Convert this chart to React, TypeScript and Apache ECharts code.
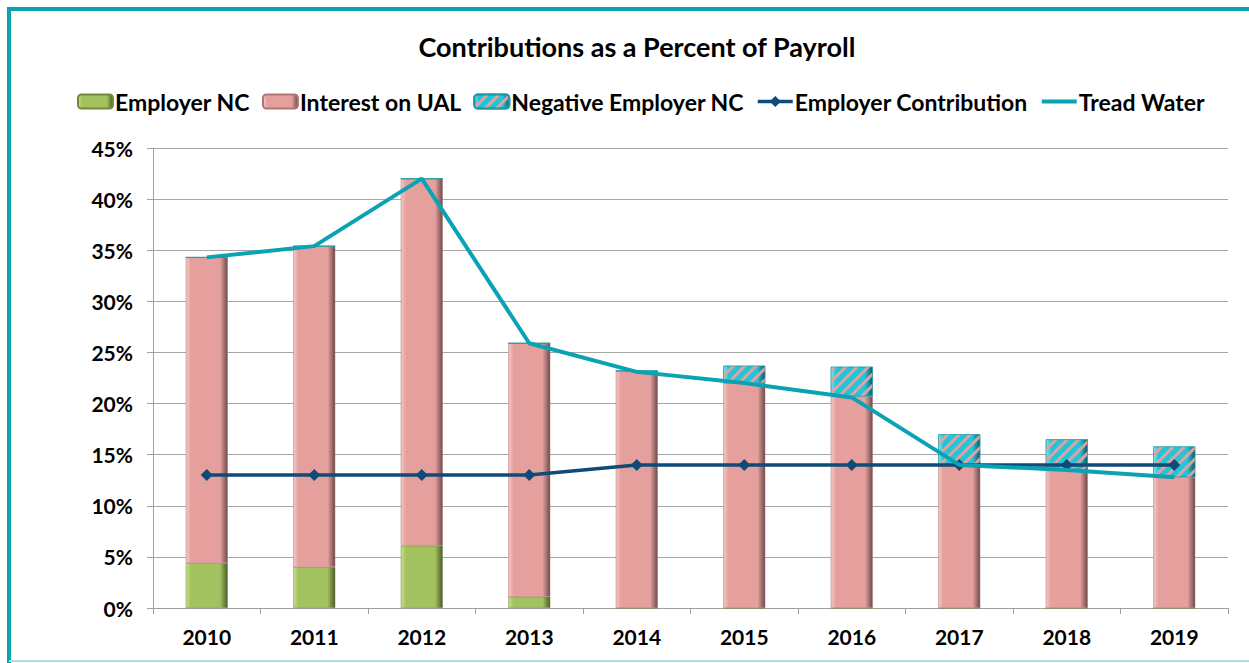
import React, { useEffect, useRef } from "react";
import * as echarts from "echarts";

const years = ["2010", "2011", "2012", "2013", "2014", "2015", "2016", "2017", "2018", "2019"];
const employerNC = [4.4, 4.0, 6.1, 1.1, 0, 0, 0, 0, 0, 0];
const interestUAL = [29.9, 31.4, 35.9, 24.8, 23.2, 22.0, 20.7, 13.9, 13.5, 12.8];
const negativeEmployerNC = [0, 0, 0, 0, 0, 1.7, 2.9, 3.1, 3.0, 3.0];
const employerContribution = [13, 13, 13, 13, 14, 14, 14, 14, 14, 14];
const treadWater = [34.3, 35.4, 42.0, 25.9, 23.1, 22.0, 20.6, 14.0, 13.5, 12.8];
const legendNames = ["Employer NC", "Interest on UAL", "Negative Employer NC", "Employer Contribution", "Tread Water"];

const FONT = "Lato, 'Noto Sans', sans-serif";

function bevel(light: string, base: string, dark: string) {
  return new echarts.graphic.LinearGradient(0, 0, 1, 0, [
    { offset: 0, color: light },
    { offset: 0.12, color: base },
    { offset: 0.82, color: base },
    { offset: 1, color: dark },
  ]);
}

export default function App() {
  const ref = useRef<HTMLDivElement>(null);
  useEffect(() => {
    if (!ref.current) return;
    const chart = echarts.init(ref.current, null, { renderer: "svg" });
    chart.setOption({
      animation: false,
      backgroundColor: "#ffffff",
      title: {
        text: "Contributions as a Percent of Payroll",
        left: 632,
        textAlign: "center",
        top: 28,
        textStyle: { fontFamily: FONT, fontWeight: "bold", fontSize: 27, color: "#000" },
      },
      legend: {
        top: 85,
        left: 72,
        itemWidth: 35,
        itemHeight: 14,
        itemGap: 12,
        textStyle: { fontFamily: FONT, fontWeight: "bold", fontSize: 23, color: "#000", padding: [0, 0, 0, -3] },
        data: legendNames.map((n) => {
          if (n === "Tread Water") return { name: n, itemStyle: { opacity: 0 }, lineStyle: { width: 4 } };
          if (n === "Employer Contribution") return { name: n, lineStyle: { width: 3.5 } };
          return { name: n };
        }),
      },
      grid: { left: 153, right: 21, top: 148, bottom: 55, containLabel: false },
      xAxis: {
        type: "category",
        data: years,
        axisLine: { lineStyle: { color: "#a0a0a0", width: 1 } },
        axisTick: { show: true, length: 6, lineStyle: { color: "#a0a0a0" } },
        axisLabel: { fontFamily: FONT, fontWeight: "bold", fontSize: 21, color: "#000", margin: 18 },
      },
      yAxis: {
        type: "value",
        min: 0,
        max: 45,
        interval: 5,
        axisLine: { show: true, lineStyle: { color: "#a0a0a0" } },
        axisTick: { show: true, length: 6, lineStyle: { color: "#a0a0a0" } },
        splitLine: { lineStyle: { color: "#a6a6a6", width: 1 } },
        axisLabel: {
          formatter: "{value}%",
          fontFamily: FONT,
          fontWeight: "bold",
          fontSize: 21,
          color: "#000",
          margin: 20,
        },
      },
      series: [
        {
          name: "Employer NC",
          type: "bar",
          stack: "total",
          barWidth: 42,
          data: employerNC,
          itemStyle: { color: bevel("#c8e08c", "#a2c15f", "#4d5e2a"), borderColor: "#6f8a3a", borderWidth: 0.5 },
        },
        {
          name: "Interest on UAL",
          type: "bar",
          stack: "total",
          data: interestUAL,
          itemStyle: { color: bevel("#f4c8c6", "#e5a09e", "#6e4a4a"), borderColor: "#b07676", borderWidth: 0.5 },
        },
        {
          name: "Negative Employer NC",
          type: "bar",
          stack: "total",
          data: negativeEmployerNC,
          itemStyle: {
            color: bevel("#7fe3ef", "#22c4d8", "#0b5a66"),
            borderColor: "#1a9aa8",
            borderWidth: 0.5,
            decal: {
              symbol: "rect",
              symbolSize: 1,
              color: "rgba(232,160,160,0.95)",
              dashArrayX: [1, 0],
              dashArrayY: [3, 5],
              rotation: -Math.PI / 4,
            },
          },
        },
        {
          name: "Employer Contribution",
          type: "line",
          data: employerContribution,
          symbol: "diamond",
          symbolSize: 12,
          itemStyle: { color: "#0f4a78" },
          lineStyle: { color: "#0f4a78", width: 3.5 },
          z: 5,
        },
        {
          name: "Tread Water",
          type: "line",
          data: treadWater,
          symbol: "none",
          showSymbol: false,
          itemStyle: { color: "#0aa3b4" },
          lineStyle: { color: "#0aa3b4", width: 4 },
          z: 6,
        },
      ],
      graphic: [
        {
          type: "rect",
          shape: { x: 9, y: 9, width: 1260, height: 700 },
          style: { fill: "none", stroke: "#0aa3b0", lineWidth: 4 },
          silent: true,
        },
        {
          type: "line",
          shape: { x1: 9, y1: 661, x2: 1249, y2: 661 },
          style: { stroke: "#a8e2e8", lineWidth: 2 },
          silent: true,
        },
      ],
    });
    return () => chart.dispose();
  }, []);
  return (
    <div
      ref={ref}
      style={{ position: "absolute", left: 0, top: 0, width: 1249, height: 663 }}
    />
  );
}
